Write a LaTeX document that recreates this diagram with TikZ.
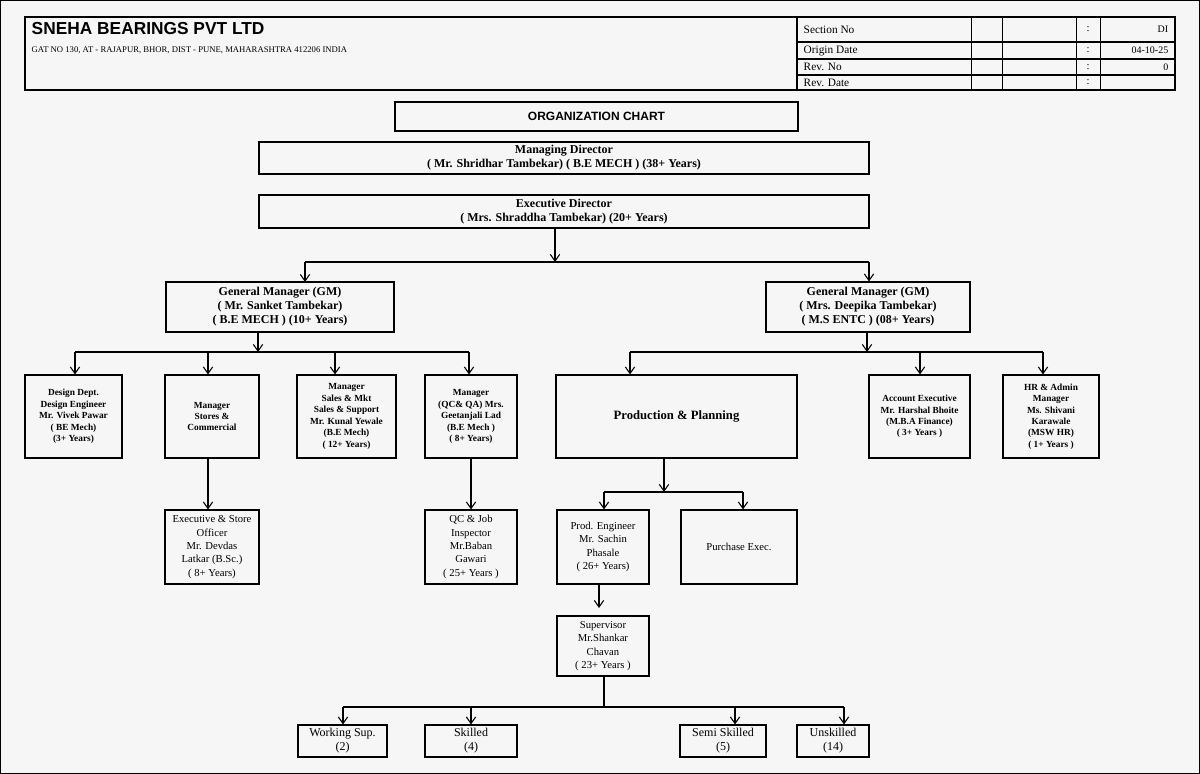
\documentclass[tikz,border=0pt]{standalone}
\usepackage{fontspec}
\setmainfont{Liberation Serif}
\newfontfamily\hdfont{Liberation Sans}
\usetikzlibrary{arrows.meta}
\begin{document}
\begin{tikzpicture}[x=0.75pt,y=-0.75pt,
 bx/.style={draw,thick,align=center,inner sep=1pt},
 ar/.style={-{Straight Barb[length=5pt,width=7pt]},thick},
 ln/.style={thick}]
\useasboundingbox (0,0) rectangle (1200,774);
\fill[gray!7] (0,0) rectangle (1200,774);
\draw (0.5,0.5) rectangle (1199.5,773.5);
% header
\draw[thick] (25,17) rectangle (1175,90);
\draw[thick] (797,17) -- (797,90);
\foreach \x in {971,1002,1076,1100} \draw (\x,17) -- (\x,90);
\foreach \y in {42,59,75} \draw[thick] (797,\y) -- (1175,\y);
\node[anchor=west,font=\hdfont\bfseries\fontsize{13}{14}\selectfont] (co) at (27,29) {SNEHA BEARINGS PVT LTD};
\node[anchor=west,font=\fontsize{6.5}{7}\selectfont] (ad) at (27,50) {GAT NO 130, AT - RAJAPUR, BHOR, DIST - PUNE, MAHARASHTRA 412206 INDIA};
\foreach \t/\y/\v in {Section No/29.5/DI/07, Origin Date/50.5/04-10-25, Rev. No/67/0, Rev. Date/82.5/{}}{
 \node[anchor=west,font=\fontsize{8.5}{9}\selectfont] at (799,\y) {\t};
 \node[font=\fontsize{8}{9}\selectfont] at (1088,\y) {:};
 \node[anchor=east,font=\fontsize{7.5}{9}\selectfont] at (1173,\y) {\v};
}
\node[bx,minimum width=302.25pt,minimum height=21.75pt,font=\hdfont\bfseries\fontsize{9}{10}\selectfont] (title) at (596.5,116.5) {ORGANIZATION CHART};
\begin{scope}[font=\bfseries\fontsize{9}{10.5}\selectfont]
\node[bx,minimum width=457.5pt,minimum height=24pt] (md) at (564,158) {Managing Director\\( Mr. Shridhar Tambekar) ( B.E MECH ) (38+ Years)};
\node[bx,minimum width=457.5pt,minimum height=24.75pt] (ed) at (564,211.5) {Executive Director\\( Mrs. Shraddha Tambekar) (20+ Years)};
\node[bx,minimum width=171pt,minimum height=37.5pt] (gm1) at (280,307) {General Manager (GM)\\( Mr. Sanket Tambekar)\\( B.E MECH ) (10+ Years)};
\node[bx,minimum width=153pt,minimum height=37.5pt] (gm2) at (868,307) {General Manager (GM)\\( Mrs. Deepika Tambekar)\\( M.S ENTC ) (08+ Years)};
\node[bx,minimum width=180.75pt,minimum height=62.25pt,font=\bfseries\fontsize{9.5}{11}\selectfont] (pp) at (676.5,416.5) {Production \& Planning};
\end{scope}
\begin{scope}[font=\bfseries\fontsize{7}{8.6}\selectfont]
\node[bx,minimum width=72.75pt,minimum height=62.25pt] (dd) at (73.5,416.5) {Design Dept.\\Design Engineer\\Mr. Vivek Pawar\\( BE Mech)\\(3+ Years)};
\node[bx,minimum width=70.5pt,minimum height=62.25pt] (st) at (212,416.5) {Manager\\Stores \&\\Commercial};
\node[bx,minimum width=74.25pt,minimum height=62.25pt] (sm) at (346.5,416.5) {Manager\\Sales \& Mkt\\Sales \& Support\\Mr. Kunal Yewale\\(B.E Mech)\\( 12+ Years)};
\node[bx,minimum width=69pt,minimum height=62.25pt] (qc) at (471,416.5) {Manager\\(QC\& QA) Mrs.\\Geetanjali Lad\\(B.E Mech )\\( 8+ Years)};
\node[bx,minimum width=75.75pt,minimum height=62.25pt] (ac) at (919.5,416.5) {Account Executive\\Mr. Harshal Bhoite\\(M.B.A Finance)\\( 3+ Years )};
\node[bx,minimum width=72pt,minimum height=62.25pt] (hr) at (1051,416.5) {HR \& Admin\\Manager\\Ms. Shivani\\Karawale\\(MSW HR)\\( 1+ Years )};
\end{scope}
\begin{scope}[font=\fontsize{8}{10}\selectfont]
\node[bx,minimum width=70.5pt,minimum height=55.5pt] (ex) at (212,547) {Executive \& Store\\Officer\\Mr. Devdas\\Latkar (B.Sc.)\\( 8+ Years)};
\node[bx,minimum width=69pt,minimum height=55.5pt] (qj) at (471,547) {QC \& Job\\Inspector\\Mr.Baban\\Gawari\\( 25+ Years )};
\node[bx,minimum width=69pt,minimum height=55.5pt] (pe) at (603,547) {Prod. Engineer\\Mr. Sachin\\Phasale\\( 26+ Years)};
\node[bx,minimum width=87pt,minimum height=55.5pt] (pu) at (739,547) {Purchase Exec.};
\node[bx,minimum width=69pt,minimum height=45pt] (sv) at (603,646) {Supervisor\\Mr.Shankar\\Chavan\\( 23+ Years )};
\end{scope}
\begin{scope}[font=\fontsize{9}{10.5}\selectfont]
\node[bx,minimum width=66.75pt,minimum height=24pt] (ws) at (342.5,741) {Working Sup.\\(2)};
\node[bx,minimum width=69pt,minimum height=24pt] (sk) at (471,741) {Skilled\\(4)};
\node[bx,minimum width=64.5pt,minimum height=24pt] (ss) at (723,741) {Semi Skilled\\(5)};
\node[bx,minimum width=54pt,minimum height=24pt] (us) at (833,741) {Unskilled\\(14)};
\end{scope}
% connectors
\coordinate (e1) at (555,262);
\draw[ar] (ed.south -| e1) -- (e1);
\draw[ln] (305,262) -- (869,262);
\draw[ar] (305,262) -- (305,282);
\draw[ar] (869,262) -- (gm2.north -| 869,0);
\coordinate (g1) at (258,352);
\draw[ar] (gm1.south -| g1) -- (g1);
\draw[ln] (75,352) -- (469,352);
\foreach \n/\x in {dd/75,st/208,sm/335,qc/469} \draw[ar] (\x,352) -- (\n.north -| \x,0);
\coordinate (g2) at (867,352);
\draw[ar] (gm2.south -| g2) -- (g2);
\draw[ln] (630,352) -- (1043,352);
\foreach \n/\x in {pp/630,ac/920,hr/1043} \draw[ar] (\x,352) -- (\n.north -| \x,0);
\draw[ar] (st.south -| 208,0) -- (ex.north -| 208,0);
\draw[ar] (qc.south -| 471,0) -- (qj.north -| 471,0);
\coordinate (p1) at (664,492);
\draw[ar] (pp.south -| p1) -- (p1);
\draw[ln] (604,492) -- (743,492);
\draw[ar] (604,492) -- (pe.north -| 604,0);
\draw[ar] (743,492) -- (pu.north -| 743,0);
\draw[ar] (pe.south -| 599,0) -- (599,608);
\coordinate (s1) at (604,707);
\draw[ln] (sv.south -| s1) -- (s1);
\draw[ln] (343,707) -- (844,707);
\foreach \n/\x in {ws/343,sk/471,ss/735,us/844} \draw[ar] (\x,707) -- (\n.north -| \x,0);
\end{tikzpicture}
\end{document}
